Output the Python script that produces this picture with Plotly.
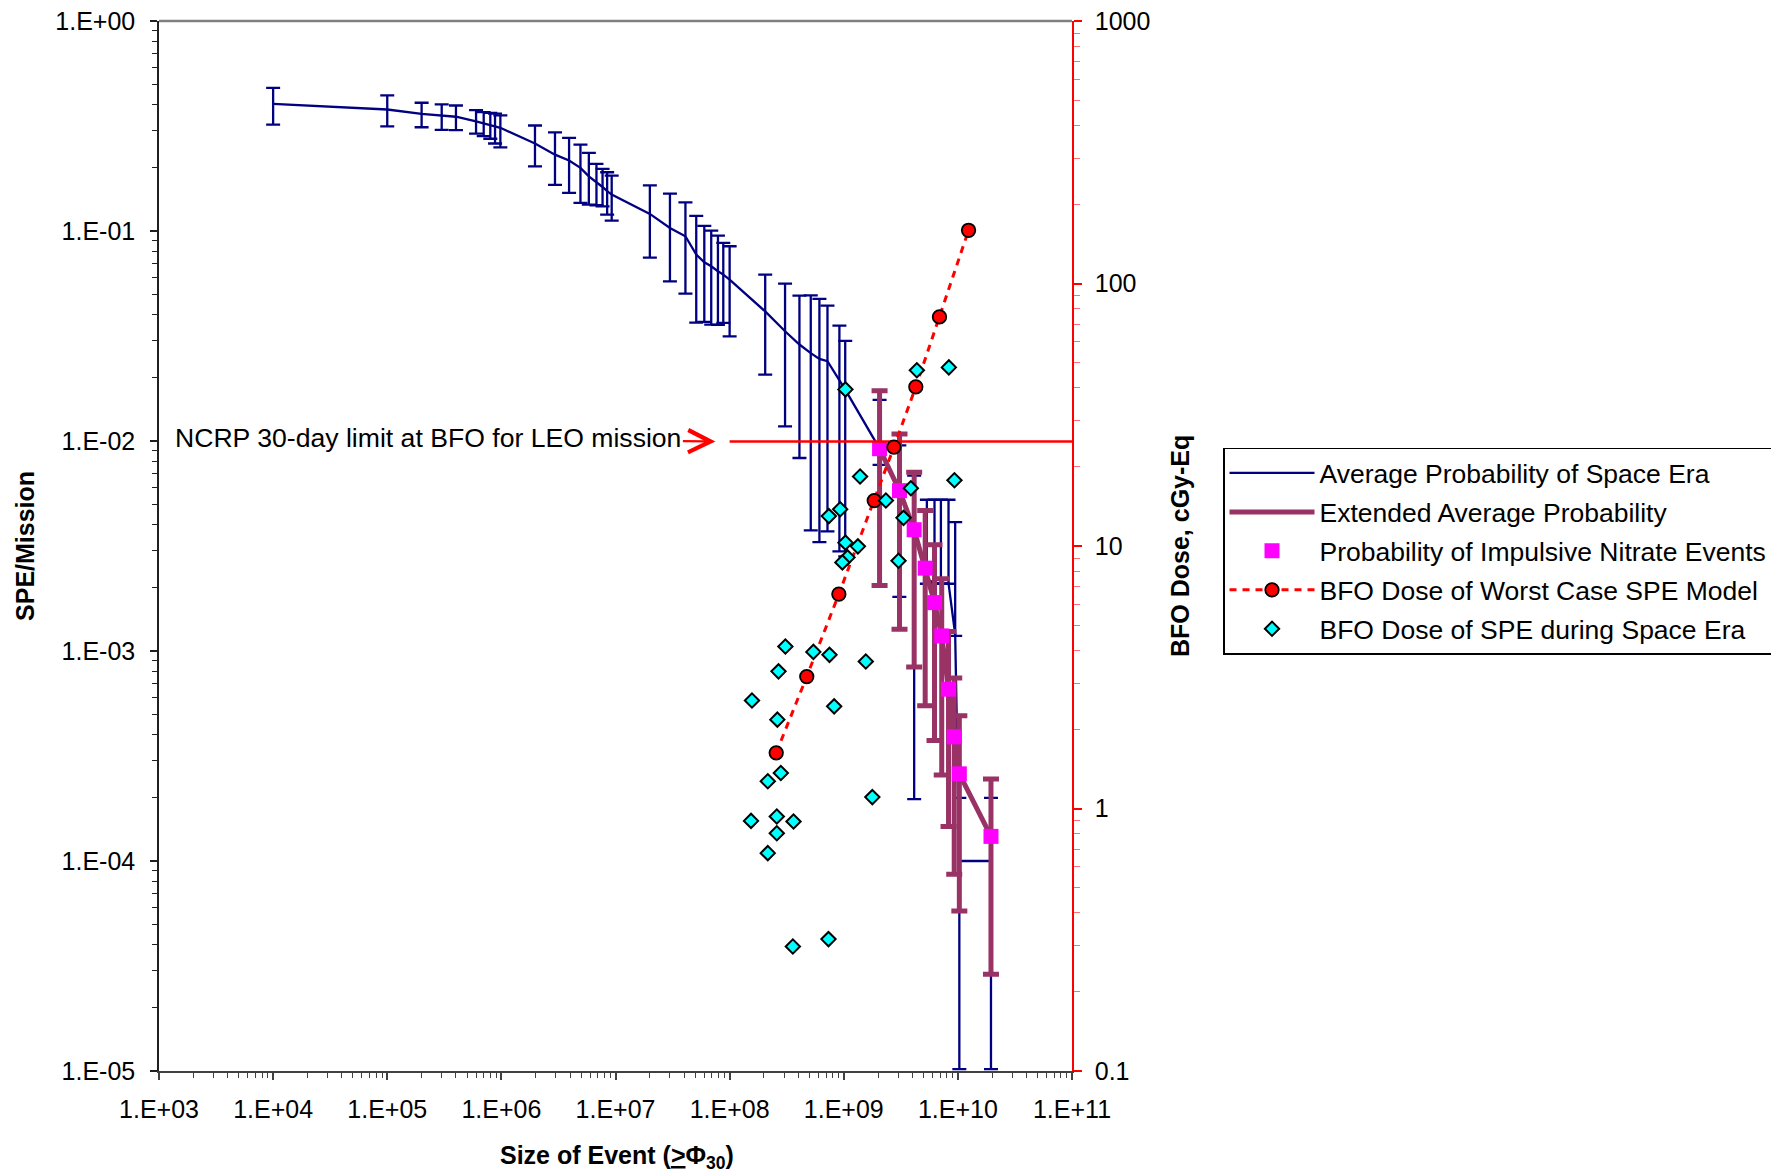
import math
import plotly.graph_objects as go

# ---------------- data ----------------
blue_x = [1e4, 1e5, 2e5, 3e5, 4e5, 6.0e5, 7.0e5, 8.0e5, 8.8e5, 9.8e5,
          1.97e6, 2.95e6, 3.92e6, 4.93e6, 5.84e6, 6.81e6, 7.7e6, 8.45e6, 9.26e6,
          2.0e7, 3.0e7, 4.1e7, 5.1e7, 6.0e7, 6.9e7, 7.9e7, 8.8e7, 1.0e8,
          2.05e8, 3.06e8, 4.09e8, 5.14e8, 6.12e8, 7.2e8, 9.16e8, 1.03e9,
          2.06e9, 3.07e9, 4.14e9, 5.35e9, 6.24e9, 7.1e9, 8.28e9, 9.47e9,
          1.03e10, 1.95e10]
blue_y = [0.403, 0.379, 0.361, 0.355, 0.350, 0.333, 0.325, 0.319, 0.315, 0.310,
          0.261, 0.231, 0.2165, 0.1998, 0.182, 0.171, 0.162, 0.155, 0.149,
          0.1206, 0.1034, 0.0944, 0.0772, 0.071, 0.0679, 0.0643, 0.062, 0.0587,
          0.0414, 0.0333, 0.0288, 0.0262, 0.0246, 0.0240, 0.0196, 0.01756,
          0.0092, 0.00586, 0.00385, 0.0022, 0.0021, 0.0021, 0.0021, 0.0012,
          1.0e-4, 1.0e-4]
blue_hi = [0.480, 0.442, 0.408, 0.401, 0.396, 0.376, 0.368, 0.365, 0.362, 0.355,
           0.318, 0.295, 0.2776, 0.258, 0.2355, 0.2088, 0.1976, 0.1904, 0.1836,
           0.165, 0.1508, 0.137, 0.118, 0.1057, 0.1004, 0.095, 0.0877, 0.0846,
           0.062, 0.0562, 0.0492, 0.0494, 0.0475, 0.0441, 0.0354, 0.0300,
           0.0157, 0.00953, 0.00684, 0.00525, 0.00525, 0.00525, 0.00525, 0.00411,
           2.0e-4, 2.0e-4]
blue_lo = [0.321, 0.315, 0.312, 0.303, 0.302, 0.291, 0.283, 0.275, 0.261, 0.250,
           0.203, 0.166, 0.152, 0.136, 0.1335, 0.1326, 0.131, 0.1197, 0.112,
           0.0747, 0.0576, 0.0503, 0.0366, 0.0369, 0.0358, 0.0357, 0.0365, 0.0315,
           0.0207, 0.01174, 0.0083, 0.00375, 0.0033, 0.00371, 0.00298, 0.00282,
           0.0077, 0.00181, 0.000197, 0.00209, 0.00209, 0.00209, 0.00209, 0.00118,
           1.02e-5, 1.02e-5]

ext_x = [2.06e9, 3.08e9, 4.14e9, 5.17e9, 6.24e9, 7.22e9, 8.28e9, 9.29e9, 1.03e10, 1.95e10]
ext_y = [0.00919, 0.0058, 0.00378, 0.00248, 0.0017, 0.00118, 0.000658, 0.00039, 0.00026, 0.000131]
ext_hi = [0.01737, 0.0108, 0.0071, 0.00467, 0.00321, 0.00221, 0.00124, 0.000743, 0.000491, 0.000246]
ext_lo = [0.00205, 0.00127, 0.000838, 0.000548, 0.000375, 0.000257, 0.000146, 8.65e-5, 5.78e-5, 2.89e-5]

nitrate_x = ext_x
nitrate_y = ext_y

worst_x = [2.56e8, 4.74e8, 9.06e8, 1.85e9, 2.75e9, 4.28e9, 6.9e9, 1.24e10]
worst_dose = [1.63, 3.18, 6.56, 14.9, 23.8, 40.4, 74.6, 159.5]

spe_x = [4.37e9, 8.34e9, 1.035e9, 1.39e9, 9.33e9, 3.87e9, 2.34e9, 9.3e8, 7.4e8, 3.34e9,
         1.035e9, 1.33e9, 1.08e9, 9.73e8, 3.02e9, 3.08e8, 5.42e8, 7.5e8, 1.56e9, 2.68e8,
         1.57e8, 8.24e8, 2.62e8, 2.81e8, 2.16e8, 1.78e9, 1.54e8, 2.59e8, 3.63e8, 2.59e8,
         2.16e8, 3.58e8, 7.35e8]
spe_dose = [46.7, 47.9, 39.5, 18.4, 17.8, 16.6, 14.9, 13.8, 13.0, 12.8,
            10.3, 9.97, 9.05, 8.66, 8.79, 4.14, 3.95, 3.85, 3.63, 3.33,
            2.58, 2.45, 2.18, 1.365, 1.27, 1.105, 0.897, 0.932, 0.892, 0.805,
            0.676, 0.298, 0.318]

ncrp_x = [1e8, 1e11]
ncrp_limit = 25  # cGy-Eq
ncrp_arrow_tip = 7.5e7

x_ticks = [1e3, 1e4, 1e5, 1e6, 1e7, 1e8, 1e9, 1e10, 1e11]
x_ticktext = ["1.E+03", "1.E+04", "1.E+05", "1.E+06", "1.E+07", "1.E+08", "1.E+09", "1.E+10", "1.E+11"]
y_ticks = [1e-5, 1e-4, 1e-3, 1e-2, 1e-1, 1]
y_ticktext = ["1.E-05", "1.E-04", "1.E-03", "1.E-02", "1.E-01", "1.E+00"]
y2_ticks = [0.1, 1, 10, 100, 1000]
y2_ticktext = ["0.1", "1", "10", "100", "1000"]

# ---------------- style ----------------
NAVY = "#000080"
MAROON = "#993366"
MAGENTA = "#FF00FF"
RED = "#FF0000"
CYAN = "#00FFFF"
FONT = "Liberation Sans, Arial, sans-serif"

fig = go.Figure()

fig.add_trace(go.Scatter(
    x=blue_x, y=blue_y, mode="lines", name="Average Probability of Space Era",
    legendgroup="g1",
    line=dict(color=NAVY, width=2.3),
    error_y=dict(type="data", symmetric=False,
                 array=[h - c for h, c in zip(blue_hi, blue_y)],
                 arrayminus=[c - l for c, l in zip(blue_y, blue_lo)],
                 color=NAVY, thickness=2.3, width=7),
))
fig.add_trace(go.Scatter(
    x=ext_x, y=ext_y, mode="lines", name="Extended Average Probability",
    legendgroup="g2",
    line=dict(color=MAROON, width=5),
    error_y=dict(type="data", symmetric=False,
                 array=[h - c for h, c in zip(ext_hi, ext_y)],
                 arrayminus=[c - l for c, l in zip(ext_y, ext_lo)],
                 color=MAROON, thickness=5, width=8),
))
fig.add_trace(go.Scatter(
    x=nitrate_x, y=nitrate_y, mode="markers", name="Probability of Impulsive Nitrate Events",
    legendgroup="g3",
    marker=dict(symbol="square", color=MAGENTA, size=15, line=dict(width=0)),
))
fig.add_trace(go.Scatter(
    x=ncrp_x, y=[ncrp_limit, ncrp_limit], yaxis="y2", mode="lines", showlegend=False,
    legendgroup="g0",
    line=dict(color=RED, width=2.5), hoverinfo="skip",
))
fig.add_trace(go.Scatter(
    x=worst_x, y=worst_dose, yaxis="y2", mode="lines+markers", name="BFO Dose of Worst Case SPE Model",
    legendgroup="g4",
    line=dict(color=RED, width=3, dash="7px,6px"),
    marker=dict(symbol="circle", color=RED, size=13.5, line=dict(color="black", width=1.8)),
))
fig.add_trace(go.Scatter(
    x=spe_x, y=spe_dose, yaxis="y2", mode="markers", name="BFO Dose of SPE during Space Era",
    legendgroup="g5",
    marker=dict(symbol="diamond", color=CYAN, size=11, line=dict(color="black", width=2)),
))

tickfont = dict(family=FONT, size=25, color="black")

fig.update_layout(
    width=1771, height=1172,
    margin=dict(l=159, r=699, t=21, b=101, autoexpand=False),
    paper_bgcolor="white", plot_bgcolor="white",
    font=dict(family=FONT, color="black"),
    showlegend=True,
    xaxis=dict(type="log", range=[3, 11], showgrid=False, zeroline=False,
               tickmode="array", tickvals=x_ticks, ticktext=x_ticktext,
               ticks="outside", ticklen=7, tickcolor="#404040", tickwidth=1.5,
               showline=True, linecolor="#404040", linewidth=1.5,
               ticklabelstandoff=8, tickfont=tickfont,
               minor=dict(dtick="D1", ticks="outside", ticklen=5, tickcolor="#404040", tickwidth=1, showgrid=False)),
    yaxis=dict(type="log", range=[-5, 0], showgrid=False, zeroline=False,
               tickmode="array", tickvals=y_ticks, ticktext=y_ticktext,
               ticks="outside", ticklen=7, tickcolor="#202020", tickwidth=1.5,
               showline=True, linecolor="#202020", linewidth=1.5,
               ticklabelstandoff=10, tickfont=tickfont,
               minor=dict(dtick="D1", ticks="outside", ticklen=5, tickcolor="#202020", tickwidth=1, showgrid=False)),
    yaxis2=dict(type="log", range=[-1, 3], overlaying="y", side="right", showgrid=False, zeroline=False,
                tickmode="array", tickvals=y2_ticks, ticktext=y2_ticktext,
                ticks="outside", ticklen=8, tickcolor=RED, tickwidth=1.5,
                showline=True, linecolor=RED, linewidth=1.5,
                ticklabelstandoff=8, tickfont=tickfont,
                minor=dict(dtick="D1", ticks="outside", ticklen=6, tickcolor="#FF7070", tickwidth=1, showgrid=False)),
    legend=dict(x=1.1654, y=0.5936, xanchor="left", yanchor="top",
                bgcolor="white", bordercolor="black", borderwidth=1.5,
                font=dict(family=FONT, size=26.5, color="black"),
                itemwidth=85, tracegroupgap=1.5),
    shapes=[dict(type="line", xref="paper", yref="paper", x0=0, x1=1, y0=1, y1=1,
                 line=dict(color="#808080", width=2.5))],
    annotations=[
        dict(text="NCRP 30-day limit at BFO for LEO mission", xref="x", yref="y2",
             x=math.log10(ncrp_arrow_tip), y=math.log10(ncrp_limit),
             axref="pixel", ayref="pixel", ax=-287, ay=-4,
             showarrow=True, arrowhead=5, arrowsize=2.0, arrowwidth=2.2, arrowcolor=RED,
             standoff=0, startstandoff=0,
             font=dict(family=FONT, size=26.6, color="black")),
        dict(text="<b>SPE/Mission</b>", xref="paper", yref="paper", x=-0.1468, y=0.5,
             xanchor="center", yanchor="middle", textangle=-90, showarrow=False,
             font=dict(family=FONT, size=25, color="black")),
        dict(text="<b>BFO Dose, cGy-Eq</b>", xref="paper", yref="paper", x=1.1183, y=0.5,
             xanchor="center", yanchor="middle", textangle=-90, showarrow=False,
             font=dict(family=FONT, size=25, color="black")),
        dict(text="<b>Size of Event (<u>&gt;</u>Φ<sub>30</sub>)</b>", xref="paper", yref="paper",
             x=0.5016, y=-0.0829, xanchor="center", yanchor="middle", yshift=1, showarrow=False,
             font=dict(family=FONT, size=25, color="black")),
    ],
)

fig.write_html("out.html", config={"displayModeBar": False},
               post_script="document.body.style.margin='0';")
